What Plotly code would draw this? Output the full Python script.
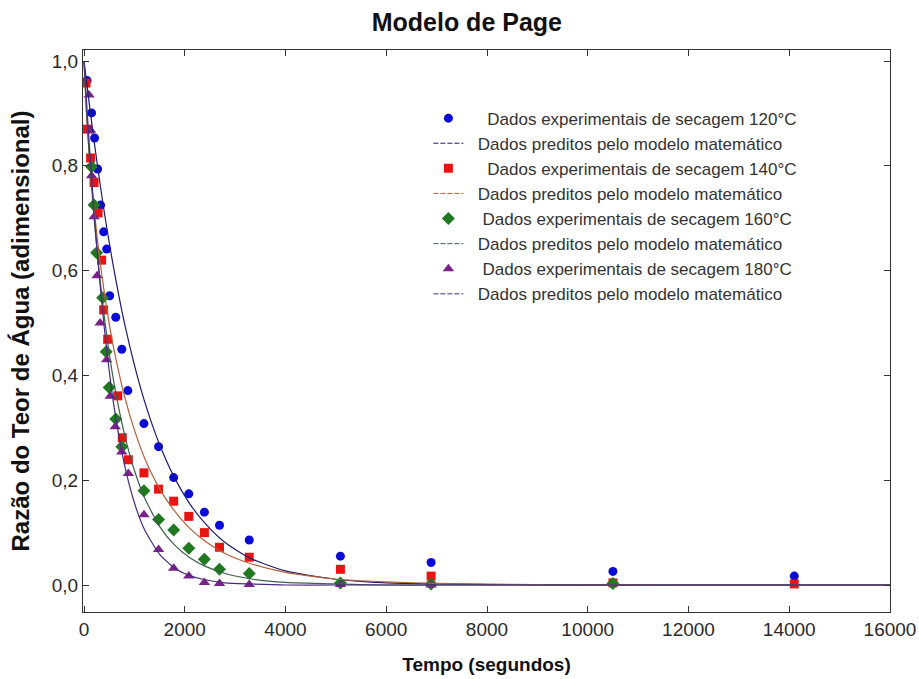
import plotly.graph_objects as go

# ---- experimental data (tempo em segundos, razão do teor de água) ----
t_120 = [60, 150, 210, 270, 330, 390, 450, 510, 630, 750, 870, 1190, 1480, 1780, 2080, 2390, 2690, 3280, 5090, 6890, 10500, 14100]
mr_120 = [0.963, 0.901, 0.853, 0.794, 0.725, 0.674, 0.641, 0.552, 0.511, 0.450, 0.371, 0.308, 0.264, 0.205, 0.174, 0.139, 0.114, 0.086, 0.055, 0.043, 0.026, 0.017]

t_140 = [40, 70, 130, 200, 280, 350, 390, 470, 670, 760, 880, 1190, 1480, 1780, 2080, 2390, 2690, 3280, 5090, 6890, 10500, 14100]
mr_140 = [0.958, 0.870, 0.815, 0.768, 0.710, 0.620, 0.525, 0.469, 0.361, 0.281, 0.239, 0.214, 0.183, 0.160, 0.131, 0.100, 0.072, 0.053, 0.030, 0.017, 0.004, 0.002]

t_160 = [150, 200, 250, 370, 440, 500, 630, 750, 1190, 1480, 1780, 2080, 2390, 2690, 3280, 5090, 6890, 10500]
mr_160 = [0.798, 0.725, 0.634, 0.548, 0.445, 0.377, 0.317, 0.264, 0.180, 0.125, 0.105, 0.070, 0.049, 0.030, 0.022, 0.004, 0.002, 0.003]

t_180 = [100, 130, 150, 200, 260, 320, 450, 520, 620, 750, 880, 1190, 1480, 1780, 2080, 2390, 2690, 3280, 5090, 6890]
mr_180 = [0.935, 0.868, 0.781, 0.703, 0.590, 0.500, 0.430, 0.360, 0.302, 0.254, 0.213, 0.134, 0.068, 0.032, 0.017, 0.005, 0.003, 0.001, 0.001, 0.000]

# ---- predicted curves ----
t_model = [0, 50, 100, 200, 300, 400, 500, 600, 800, 1000, 1200, 1500, 1800, 2100, 2400, 2800, 3300, 4000, 5000, 6000, 7000, 9000, 12000, 16000]
pred_120 = [1.0, 0.961, 0.922, 0.847, 0.778, 0.713, 0.654, 0.599, 0.501, 0.420, 0.351, 0.268, 0.204, 0.155, 0.118, 0.081, 0.051, 0.027, 0.011, 0.004, 0.002, 0.0, 0.0, 0.0]
pred_140 = [1.0, 0.898, 0.828, 0.718, 0.631, 0.560, 0.499, 0.447, 0.362, 0.296, 0.243, 0.184, 0.141, 0.108, 0.084, 0.060, 0.041, 0.024, 0.011, 0.006, 0.003, 0.001, 0.0, 0.0]
pred_160 = [1.0, 0.903, 0.826, 0.700, 0.598, 0.514, 0.443, 0.383, 0.289, 0.219, 0.167, 0.112, 0.076, 0.052, 0.036, 0.022, 0.012, 0.005, 0.002, 0.0, 0.0, 0.0, 0.0, 0.0]
pred_180 = [1.0, 0.923, 0.848, 0.710, 0.593, 0.493, 0.409, 0.338, 0.231, 0.157, 0.106, 0.059, 0.032, 0.018, 0.010, 0.004, 0.002, 0.0, 0.0, 0.0, 0.0, 0.0, 0.0, 0.0]

x_ticks = [0, 2000, 4000, 6000, 8000, 10000, 12000, 14000, 16000]
y_ticks = [0.0, 0.2, 0.4, 0.6, 0.8, 1.0]
y_ticktext = ["0,0", "0,2", "0,4", "0,6", "0,8", "1,0"]

NB = "\u00a0"
label_data = [NB * 4 + "Dados experimentais de secagem 120°C", NB * 4 + "Dados experimentais de secagem 140°C",
              NB * 3 + "Dados experimentais de secagem 160°C", NB * 3 + "Dados experimentais de secagem 180°C"]
label_pred = NB * 2 + "Dados preditos pelo modelo matemático"

marker_colors = ["#0a0ad8", "#e81414", "#1f7a1f", "#7a2288"]
marker_symbols = ["circle", "square", "diamond", "triangle-up"]
marker_sizes = [9, 9, 10, 10]
line_colors = ["#1c1c6e", "#b0603a", "#3c6048", "#4a2a80"]

series_t = [t_120, t_140, t_160, t_180]
series_mr = [mr_120, mr_140, mr_160, mr_180]
preds = [pred_120, pred_140, pred_160, pred_180]

fig = go.Figure()
for i in range(4):
    fig.add_trace(go.Scatter(
        x=series_t[i], y=series_mr[i], mode="markers", name=label_data[i],
        marker=dict(symbol=marker_symbols[i], size=marker_sizes[i], color=marker_colors[i],
                    line=dict(width=0)),
    ))
    fig.add_trace(go.Scatter(
        x=[None], y=[None], mode="lines", name=label_pred,
        line=dict(color=line_colors[i], width=1, dash="5px,2px"),
    ))
for i in range(4):
    fig.add_trace(go.Scatter(
        x=t_model, y=preds[i], mode="lines", showlegend=False,
        line=dict(color=line_colors[i], width=1.2, shape="spline", smoothing=0.6),
    ))

axis_common = dict(
    showline=True, linecolor="#333", linewidth=1, mirror="ticks",
    ticks="inside", ticklen=6, tickcolor="#333", showgrid=False, zeroline=False,
    automargin=False,
    tickfont=dict(family="Arial, Liberation Sans, sans-serif", size=19, color="#2a2a2a"),
)

fig.update_layout(
    width=919, height=679,
    margin=dict(l=83, r=29, t=50, b=67),
    paper_bgcolor="white", plot_bgcolor="white",
    font=dict(family="Arial, Liberation Sans, sans-serif", color="#222"),
    title=dict(text="<b>Modelo de Page</b>", x=0.508, xanchor="center", y=0.967, yanchor="middle",
               font=dict(size=25, color="#111")),
    xaxis=dict(range=[-20, 16000], tickvals=x_ticks, tickformat="d",
               title=dict(text="<b>Tempo (segundos)</b>", font=dict(size=19, color="#111"), standoff=18),
               **axis_common),
    yaxis=dict(range=[-0.0515, 1.021], tickvals=y_ticks, ticktext=y_ticktext,
               title=dict(text="<b>Razão do Teor de Água (adimensional)</b>", font=dict(size=24, color="#111"), standoff=15),
               **axis_common),
    legend=dict(x=0.428, y=0.91, xanchor="left", yanchor="top", bgcolor="rgba(0,0,0,0)",
                font=dict(family="Arial, Liberation Sans, sans-serif", size=17, color="#333"),
                traceorder="normal"),
    showlegend=True,
)

fig.write_html("out.html")
